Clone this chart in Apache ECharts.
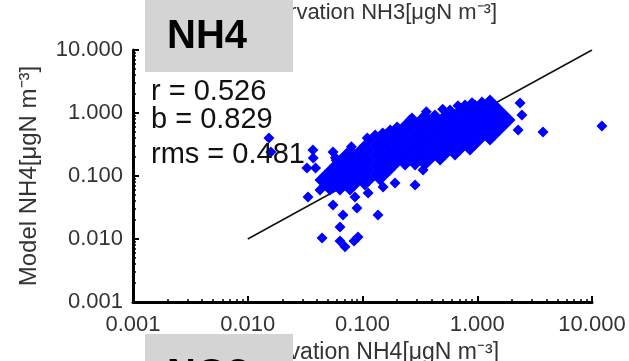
<!DOCTYPE html>
<html><head><meta charset="utf-8">
<script src="https://cdn.jsdelivr.net/npm/echarts@6/dist/echarts.min.js"></script>
<style>html,body{margin:0;padding:0;background:#fff}#c{width:629px;height:361px}</style>
</head><body><div id="c"></div>
<script>
// ---- data ----
const axisTickValues = [0.001, 0.01, 0.1, 1, 10];
const panelTitle = 'NH4';
const nextPanelTitle = 'NO3';
const xName = 'Observation NH4[\u03bcgN m\u207b\u00b3]';
const yName = 'Model NH4[\u03bcgN m\u207b\u00b3]';
const prevPanelXName = 'Observation NH3[\u03bcgN m\u207b\u00b3]';
const statLines = ['r = 0.526', 'b = 0.829', 'rms = 0.481'];
const oneToOne = [[0.01, 0.01], [10, 10]];
// [observation, model] pairs of the dense cloud
const cloudPoints = [
 [0.0426,0.0864],[0.0426,0.0600],
 [0.0471,0.104],[0.0471,0.0720],
 [0.0521,0.125],[0.0521,0.0864],[0.0521,0.0600],
 [0.0576,0.150],[0.0576,0.104],[0.0576,0.0720],
 [0.0637,0.179],[0.0637,0.125],[0.0637,0.0864],[0.0637,0.0600],
 [0.0704,0.215],[0.0704,0.150],[0.0704,0.104],[0.0704,0.0720],
 [0.0778,0.259],[0.0778,0.179],[0.0778,0.125],[0.0778,0.0864],[0.0778,0.0600],
 [0.0860,0.215],[0.0860,0.150],[0.0860,0.104],[0.0860,0.0720],
 [0.0951,0.259],[0.0951,0.179],[0.0951,0.125],[0.0951,0.0864],
 [0.105,0.310],[0.105,0.215],[0.105,0.150],[0.105,0.104],[0.105,0.0720],
 [0.116,0.373],[0.116,0.259],[0.116,0.179],[0.116,0.125],[0.116,0.0864],
 [0.129,0.447],[0.129,0.310],[0.129,0.215],[0.129,0.150],[0.129,0.104],
 [0.142,0.373],[0.142,0.259],[0.142,0.179],[0.142,0.125],[0.142,0.0864],
 [0.157,0.447],[0.157,0.310],[0.157,0.215],[0.157,0.150],[0.157,0.104],
 [0.174,0.537],[0.174,0.373],[0.174,0.259],[0.174,0.179],[0.174,0.125],
 [0.192,0.447],[0.192,0.310],[0.192,0.215],[0.192,0.150],
 [0.212,0.537],[0.212,0.373],[0.212,0.259],[0.212,0.179],
 [0.235,0.645],[0.235,0.447],[0.235,0.310],[0.235,0.215],[0.235,0.150],
 [0.259,0.774],[0.259,0.537],[0.259,0.373],[0.259,0.259],[0.259,0.179],
 [0.287,0.645],[0.287,0.447],[0.287,0.310],[0.287,0.215],[0.287,0.150],
 [0.317,0.774],[0.317,0.537],[0.317,0.373],[0.317,0.259],[0.317,0.179],
 [0.350,0.930],[0.350,0.645],[0.350,0.447],[0.350,0.310],[0.350,0.215],[0.350,0.150],
 [0.388,0.774],[0.388,0.537],[0.388,0.373],[0.388,0.259],[0.388,0.179],
 [0.428,0.930],[0.428,0.645],[0.428,0.447],[0.428,0.310],[0.428,0.215],
 [0.474,0.774],[0.474,0.537],[0.474,0.373],[0.474,0.259],[0.474,0.179],
 [0.524,0.930],[0.524,0.645],[0.524,0.447],[0.524,0.310],[0.524,0.215],
 [0.579,1.116],[0.579,0.774],[0.579,0.537],[0.579,0.373],[0.579,0.259],
 [0.640,0.930],[0.640,0.645],[0.640,0.447],[0.640,0.310],[0.640,0.215],
 [0.708,1.116],[0.708,0.774],[0.708,0.537],[0.708,0.373],[0.708,0.259],
 [0.782,1.340],[0.782,0.930],[0.782,0.645],[0.782,0.447],[0.782,0.310],
 [0.865,1.116],[0.865,0.774],[0.865,0.537],[0.865,0.373],[0.865,0.259],
 [0.956,1.340],[0.956,0.930],[0.956,0.645],[0.956,0.447],[0.956,0.310],
 [1.057,1.116],[1.057,0.774],[1.057,0.537],[1.057,0.373],
 [1.168,1.340],[1.168,0.930],[1.168,0.645],[1.168,0.447],
 [1.291,1.608],[1.291,1.116],[1.291,0.774],[1.291,0.537],[1.291,0.373],
 [1.428,1.340],[1.428,0.930],[1.428,0.645],[1.428,0.447],
 [1.579,1.116],[1.579,0.774],[1.579,0.537],
 [1.745,0.930],[1.745,0.645],
 [1.93,0.774],
 // ragged upper edge
 [0.0580,0.195],[0.0800,0.290],[0.110,0.400],[0.150,0.480],[0.200,0.600],
 [0.270,0.830],[0.360,1.050],[0.500,1.150],[0.680,1.300],[0.900,1.450],[1.100,1.500]
];
// isolated points around the cloud
const outlierPoints = [
 [0.0153,0.401],[0.0159,0.240],
 [0.0370,0.259],[0.0372,0.193],[0.0328,0.134],[0.0390,0.134],
 [0.0553,0.240],[0.0590,0.178],
 [0.0335,0.0464],[0.0553,0.0347],[0.0676,0.0240],[0.0860,0.0464],[0.0895,0.0310],
 [0.1365,0.0240],[0.0637,0.0155],[0.0444,0.0104],[0.0637,0.0093],[0.0704,0.0075],
 [0.0843,0.0093],[0.0914,0.0108],
 [0.112,0.0537],[0.151,0.0668],[0.192,0.0774],[0.287,0.0720],[0.337,0.125],
 [2.36,1.441],[2.45,0.930],[2.27,0.537],[3.74,0.499],[12.2,0.62]
];

// ---- chart ----
const FONT = 'Liberation Sans, Arial, sans-serif';
const chart = echarts.init(document.getElementById('c'));
const logAxisCommon = {
  type: 'log', logBase: 10, min: axisTickValues[0], max: axisTickValues[axisTickValues.length - 1],
  axisLine: { show: true, lineStyle: { color: '#000', width: 3 } },
  axisTick: { show: true, inside: true, length: 6, lineStyle: { color: '#000', width: 2 } },
  minorTick: { show: true, splitNumber: 9, length: 3, lineStyle: { color: '#000', width: 1.5 } },
  splitLine: { show: false },
  axisLabel: { fontSize: 22, color: '#333', fontFamily: FONT, formatter: v => Number(v).toFixed(3) },
  nameLocation: 'middle',
  nameTextStyle: { fontSize: 23, color: '#333', fontFamily: FONT }
};
chart.setOption({
  animation: false,
  backgroundColor: '#fff',
  grid: [
    { left: 133, top: 50, width: 459, height: 252, containLabel: false, outerBoundsMode: 'none' },
    { left: -50, top: 50, width: 52, height: 254, containLabel: false, outerBoundsMode: 'none' }
  ],
  xAxis: [
    Object.assign({}, logAxisCommon, { gridIndex: 0, name: xName, nameGap: 35,
      axisLabel: Object.assign({}, logAxisCommon.axisLabel, { margin: 12 }) }),
    { gridIndex: 1, type: 'value', show: false }
  ],
  yAxis: [
    Object.assign({}, logAxisCommon, { gridIndex: 0, name: yName, nameGap: 92,
      nameTextStyle: { fontSize: 24, color: '#333', fontFamily: FONT },
      axisLabel: Object.assign({}, logAxisCommon.axisLabel, { margin: 10 }) }),
    { gridIndex: 1, type: 'value', min: 0, max: 10, interval: 1, position: 'right',
      axisLine: { show: true, lineStyle: { color: '#333', width: 1.5 } },
      axisTick: { show: true, inside: false, length: 4, lineStyle: { color: '#333', width: 1 } },
      axisLabel: { show: false }, splitLine: { show: false } }
  ],
  series: [
    { type: 'line', xAxisIndex: 0, yAxisIndex: 0, data: oneToOne, symbol: 'none',
      lineStyle: { color: '#111', width: 1.5 }, z: 1 },
    { type: 'scatter', xAxisIndex: 0, yAxisIndex: 0, data: cloudPoints.concat(outlierPoints),
      symbol: 'diamond', symbolSize: 11, clip: false,
      itemStyle: { color: '#0000ff', opacity: 1 }, z: 3 }
  ],
  graphic: [
    { type: 'text', z: 50, x: 497, y: 13, style: { text: prevPanelXName, textAlign: 'right', textVerticalAlign: 'middle', font: '22px ' + FONT, fill: '#333' } },
    { type: 'rect', z: 100, shape: { x: 145, y: 0, width: 148, height: 72 }, style: { fill: '#d4d4d4' } },
    { type: 'text', z: 101, x: 167, y: 37, style: { text: panelTitle, textVerticalAlign: 'middle', font: 'bold 40px ' + FONT, fill: '#000' } },
    { type: 'rect', z: 100, shape: { x: 145, y: 334, width: 148, height: 40 }, style: { fill: '#d4d4d4' } },
    { type: 'text', z: 101, x: 167, y: 376, style: { text: nextPanelTitle, textVerticalAlign: 'middle', font: 'bold 40px ' + FONT, fill: '#000' } },
    { type: 'text', z: 120, x: 151, y: 92, style: { text: statLines[0], textVerticalAlign: 'middle', font: '29px ' + FONT, fill: '#111' } },
    { type: 'text', z: 120, x: 151, y: 120, style: { text: statLines[1], textVerticalAlign: 'middle', font: '29px ' + FONT, fill: '#111' } },
    { type: 'text', z: 120, x: 151, y: 155, style: { text: statLines[2], textVerticalAlign: 'middle', font: '29px ' + FONT, fill: '#111' } }
  ]
});
</script></body></html>
